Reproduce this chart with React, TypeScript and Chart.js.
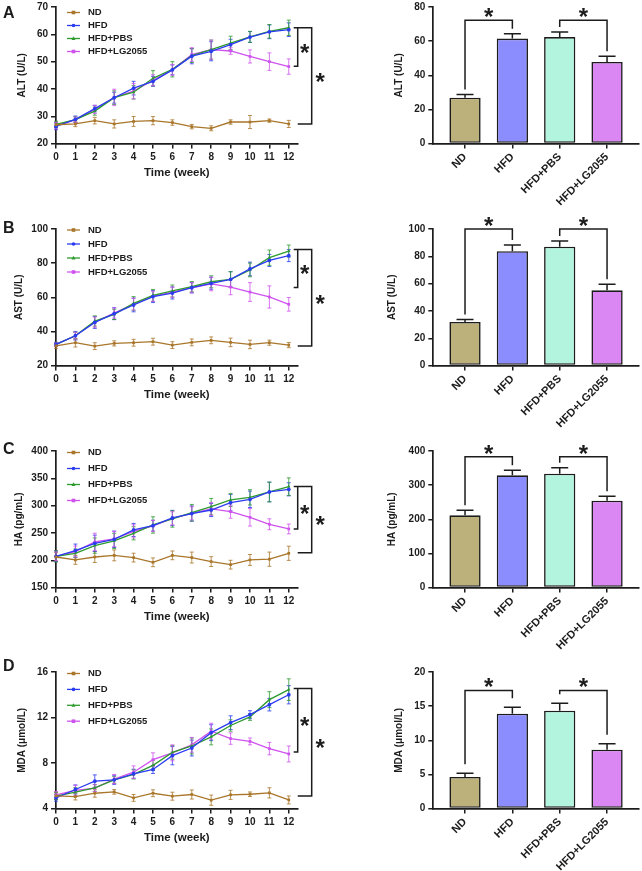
import React, { useEffect, useRef } from "react";
import { Chart, registerables } from "chart.js";

Chart.register(...registerables);

const FONT = "'Liberation Sans', Arial, Helvetica, sans-serif";
Chart.defaults.font.family = FONT;

// ---------- shared categories ----------
const weeks = [0, 1, 2, 3, 4, 5, 6, 7, 8, 9, 10, 11, 12];
const groups = ["ND", "HFD", "HFD+PBS", "HFD+LG2055"];

// ---------- ALT ----------
const altND = [26.9, 27.2, 28.4, 27.2, 28.1, 28.4, 27.7, 26.2, 25.6, 27.9, 27.9, 28.4, 27.2];
const altNDErr = [1.0, 1.0, 1.2, 1.5, 1.8, 1.5, 1.0, 0.8, 0.9, 0.8, 2.4, 0.6, 1.3];
const altHFD = [26.3, 28.9, 32.8, 36.8, 40.3, 42.8, 47.0, 52.0, 53.8, 56.2, 59.0, 60.9, 61.7];
const altHFDErr = [1.2, 1.2, 1.2, 2.0, 2.5, 1.8, 1.8, 2.8, 3.5, 2.0, 2.0, 2.5, 2.5];
const altPBS = [27.0, 28.8, 31.9, 36.8, 38.8, 43.9, 47.2, 52.2, 54.4, 56.8, 59.1, 61.1, 62.4];
const altPBSErr = [1.2, 1.0, 1.5, 2.5, 2.5, 2.8, 2.8, 2.5, 3.5, 2.5, 2.0, 2.5, 2.8];
const altLG = [26.6, 28.7, 32.5, 36.9, 39.2, 43.2, 47.0, 52.6, 54.4, 53.9, 51.9, 50.0, 48.2];
const altLGErr = [1.2, 1.0, 1.5, 3.0, 2.8, 2.0, 2.0, 2.5, 3.5, 1.2, 2.4, 3.2, 2.8];
const altTicks = [20, 30, 40, 50, 60, 70];
const altBracket = [62.4, 48.3, 27.2];
const altBar = [26.9, 61.5, 62.4, 47.8];
const altBarErr = [1.8, 2.9, 3.0, 3.3];
const altBarTicks = [0, 20, 40, 60, 80];
const altBarBracket = 72.2;

// ---------- AST ----------
const astND = [31.6, 33.4, 31.4, 33.0, 33.4, 34.0, 32.0, 33.6, 34.8, 33.6, 32.4, 33.4, 32.0];
const astNDErr = [1.5, 2.5, 2.0, 1.5, 2.0, 2.0, 2.0, 2.0, 2.0, 2.5, 2.5, 1.5, 1.5];
const astHFD = [32.4, 37.5, 45.3, 50.4, 55.5, 60.4, 62.5, 65.6, 68.2, 70.5, 76.6, 81.6, 84.4];
const astHFDErr = [1.2, 2.5, 3.5, 3.5, 4.0, 3.5, 3.5, 3.0, 3.5, 4.5, 4.0, 3.5, 3.5];
const astPBS = [32.4, 37.5, 46.1, 50.0, 56.4, 61.1, 63.7, 66.2, 69.1, 70.5, 76.0, 83.2, 87.1];
const astPBSErr = [1.2, 2.0, 3.0, 3.0, 4.0, 3.5, 3.5, 3.0, 3.5, 4.5, 4.0, 4.5, 3.5];
const astLG = [32.4, 37.5, 45.5, 50.8, 56.0, 60.6, 63.0, 65.6, 67.8, 66.0, 63.1, 60.2, 55.9];
const astLGErr = [1.0, 2.0, 3.0, 3.0, 3.5, 3.0, 3.0, 3.0, 4.0, 4.5, 5.5, 6.5, 4.0];
const astTicks = [20, 40, 60, 80, 100];
const astBracket = [88.0, 65.7, 31.5];
const astBar = [31.9, 83.8, 87.0, 55.1];
const astBarErr = [1.9, 4.4, 4.2, 4.5];
const astBarTicks = [0, 20, 40, 60, 80, 100];
const astBarBracket = 100;

// ---------- HA ----------
const haND = [206, 200.6, 206, 209, 204.9, 196.3, 209, 205, 197.6, 192, 200.6, 202, 212.8];
const haNDErr = [8, 8, 10, 10, 8, 8, 8, 10, 9, 8, 10, 13, 13];
const haHFD = [207.3, 217.7, 231, 238.4, 255.5, 263.4, 277.4, 285.4, 292, 305.5, 311.6, 325, 329.9];
const haHFDErr = [10, 12, 15, 15, 12, 10, 14, 14, 12, 15, 15, 18, 12];
const haPBS = [207.3, 212.8, 226.8, 235.4, 249.4, 264.6, 275.6, 287.2, 298.2, 310.4, 315.2, 325, 334.8];
const haPBSErr = [10, 8, 14, 14, 12, 15, 15, 15, 15, 12, 14, 18, 16];
const haLG = [207.3, 216, 233.5, 239, 253, 262.8, 276.8, 286, 294, 289, 278.7, 265.9, 257.3];
const haLGErr = [8, 10, 16, 14, 12, 10, 12, 12, 12, 12, 16, 10, 9];
const haTicks = [150, 200, 250, 300, 350, 400];
const haBracket = [335, 257.3, 214];
const haBar = [211.7, 328.8, 333.7, 254.6];
const haBarErr = [14.6, 14.6, 17.5, 12.7];
const haBarTicks = [0, 100, 200, 300, 400];
const haBarBracket = 383;

// ---------- MDA ----------
const mdaND = [5.12, 5.06, 5.35, 5.47, 4.94, 5.35, 5.09, 5.24, 4.74, 5.21, 5.26, 5.38, 4.76];
const mdaNDErr = [0.3, 0.3, 0.35, 0.2, 0.3, 0.3, 0.35, 0.4, 0.45, 0.4, 0.2, 0.45, 0.35];
const mdaHFD = [4.95, 5.68, 6.41, 6.53, 7.06, 7.44, 8.65, 9.32, 10.67, 11.55, 12.25, 13.13, 14.0];
const mdaHFDErr = [0.3, 0.4, 0.55, 0.4, 0.4, 0.35, 0.8, 0.7, 0.7, 0.6, 0.35, 0.55, 0.8];
const mdaPBS = [5.09, 5.44, 5.82, 6.53, 7.0, 7.8, 8.94, 9.5, 10.3, 11.3, 12.05, 13.57, 14.45];
const mdaPBSErr = [0.3, 0.4, 0.3, 0.3, 0.4, 0.45, 0.6, 0.7, 0.7, 0.5, 0.3, 0.7, 0.95];
const mdaLG = [5.2, 5.6, 5.8, 6.6, 7.2, 8.3, 8.9, 9.6, 10.8, 10.15, 9.9, 9.27, 8.8];
const mdaLGErr = [0.3, 0.45, 0.3, 0.4, 0.55, 0.6, 0.7, 0.65, 0.7, 0.5, 0.3, 0.55, 0.7];
const mdaTicks = [4, 8, 12, 16];
const mdaBracket = [14.54, 8.98, 5.1];
const mdaBar = [4.63, 13.9, 14.34, 8.63];
const mdaBarErr = [0.54, 0.93, 1.07, 0.88];
const mdaBarTicks = [0, 5, 10, 15, 20];
const mdaBarBracket = 17.3;

// ---------- styles ----------
const lineColors = ["#A9762A", "#2B3CF0", "#2E9B2E", "#CF52EE"];
const errColors = [
  "rgba(169,118,42,0.8)",
  "rgba(43,60,240,0.8)",
  "rgba(46,155,46,0.8)",
  "rgba(207,82,238,0.8)",
];
const pointStyles = ["rect", "circle", "triangle", "rect"];
const barColors = ["#BDB17B", "#8B8DFF", "#B3F4DE", "#DB87F3"];
const INK = "#1c1c1c";

const AREA_H = 136.6;
const PAD_TOP = 22;
const CANVAS_H = 221;
const areaTops = [7, 229, 451, 672];

const panels = [
  {
    letter: "A", letterTop: 4.6, title: "ALT (U/L)",
    ticks: altTicks, series: [altND, altHFD, altPBS, altLG], errs: [altNDErr, altHFDErr, altPBSErr, altLGErr],
    bracket: altBracket, bar: altBar, barErr: altBarErr, barTicks: altBarTicks, barBracket: altBarBracket,
    legendDy: 5.5, legendStep: 13, lineTitlePad: 22.3, barTitlePad: 69, legGap: 5,
  },
  {
    letter: "B", letterTop: 219.6, title: "AST (U/L)",
    ticks: astTicks, series: [astND, astHFD, astPBS, astLG], errs: [astNDErr, astHFDErr, astPBSErr, astLGErr],
    bracket: astBracket, bar: astBar, barErr: astBarErr, barTicks: astBarTicks, barBracket: astBarBracket,
    legendDy: 1, legendStep: 14, lineTitlePad: 19, barTitlePad: 62.3, legGap: 5,
  },
  {
    letter: "C", letterTop: 441.2, title: "HA (pg/mL)",
    ticks: haTicks, series: [haND, haHFD, haPBS, haLG], errs: [haNDErr, haHFDErr, haPBSErr, haLGErr],
    bracket: haBracket, bar: haBar, barErr: haBarErr, barTicks: haBarTicks, barBracket: haBarBracket,
    legendDy: 1.5, legendStep: 16, lineTitlePad: 19, barTitlePad: 62.3, legGap: 5,
  },
  {
    letter: "D", letterTop: 658, title: "MDA (μmol/L)",
    ticks: mdaTicks, series: [mdaND, mdaHFD, mdaPBS, mdaLG], errs: [mdaNDErr, mdaHFDErr, mdaPBSErr, mdaLGErr],
    bracket: mdaBracket, bar: mdaBar, barErr: mdaBarErr, barTicks: mdaBarTicks, barBracket: mdaBarBracket,
    legendDy: 1.5, legendStep: 15.9, lineTitlePad: 22.3, barTitlePad: 69, legGap: 9,
  },
];

function star(ctx: CanvasRenderingContext2D, x: number, y: number) {
  const size = 24;
  ctx.save();
  ctx.fillStyle = INK;
  ctx.font = `bold ${size}px ${FONT}`;
  ctx.textAlign = "center";
  ctx.textBaseline = "alphabetic";
  ctx.fillText("*", x, y + 0.575 * size);
  ctx.restore();
}

function marker(ctx: CanvasRenderingContext2D, style: string, x: number, y: number, r: number, color: string) {
  ctx.save();
  ctx.fillStyle = color;
  ctx.beginPath();
  if (style === "circle") {
    ctx.arc(x, y, r, 0, Math.PI * 2);
  } else if (style === "triangle") {
    ctx.moveTo(x, y - r * 1.2);
    ctx.lineTo(x + r * 1.1, y + r * 0.8);
    ctx.lineTo(x - r * 1.1, y + r * 0.8);
    ctx.closePath();
  } else {
    ctx.rect(x - r, y - r, r * 2, r * 2);
  }
  ctx.fill();
  ctx.restore();
}

const tickFont = { family: FONT, size: 10, weight: "bold" as const };

function axisCommon() {
  return {
    bounds: "data" as const,
    grid: {
      display: true,
      drawOnChartArea: false,
      drawTicks: true,
      tickLength: 5,
      color: INK,
      lineWidth: 1.5,
      offset: false,
    },
    border: { display: true, color: INK, width: 1.7 },
  };
}

function LinePanel({ p, top }: any) {
  const ref = useRef<HTMLCanvasElement>(null);
  useEffect(() => {
    const canvas = ref.current!;
    const ymin = p.ticks[0];
    const ymax = p.ticks[p.ticks.length - 1];

    const errPlugin = {
      id: "lineErrBars",
      beforeDatasetsDraw(chart: any) {
        const { ctx, scales } = chart;
        const xs = scales.x;
        const ys = scales.y;
        ctx.save();
        ctx.lineWidth = 1;
        p.series.forEach((vals: number[], i: number) => {
          ctx.strokeStyle = errColors[i];
          weeks.forEach((w, j) => {
            const px = xs.getPixelForValue(w);
            const hi = ys.getPixelForValue(vals[j] + p.errs[i][j]);
            const lo = ys.getPixelForValue(vals[j] - p.errs[i][j]);
            ctx.beginPath();
            ctx.moveTo(px, hi);
            ctx.lineTo(px, lo);
            ctx.moveTo(px - 2, hi);
            ctx.lineTo(px + 2, hi);
            ctx.moveTo(px - 2, lo);
            ctx.lineTo(px + 2, lo);
            ctx.stroke();
          });
        });
        ctx.restore();
      },
    };

    const overlay = {
      id: "lineOverlay",
      afterDraw(chart: any) {
        const { ctx, chartArea, scales } = chart;
        const ys = scales.y;
        ctx.save();
        groups.forEach((g, i) => {
          const cy = chartArea.top + p.legendDy + i * p.legendStep;
          ctx.strokeStyle = lineColors[i];
          ctx.lineWidth = 1.3;
          ctx.beginPath();
          ctx.moveTo(67, cy);
          ctx.lineTo(80, cy);
          ctx.stroke();
          marker(ctx, pointStyles[i], 73.5, cy, 1.8, lineColors[i]);
          ctx.fillStyle = INK;
          ctx.font = `bold 9.5px ${FONT}`;
          ctx.textBaseline = "middle";
          ctx.textAlign = "left";
          ctx.fillText(g, 88, cy);
        });
        const xi = chartArea.right;
        const xo = xi + 14;
        const yT = ys.getPixelForValue(p.bracket[0]);
        const yI = ys.getPixelForValue(p.bracket[1]);
        const yO = ys.getPixelForValue(p.bracket[2]);
        ctx.strokeStyle = INK;
        ctx.lineWidth = 1.5;
        ctx.beginPath();
        ctx.moveTo(xi - 4, yT);
        ctx.lineTo(xo, yT);
        ctx.lineTo(xo, yO);
        ctx.lineTo(xi, yO);
        ctx.moveTo(xi, yT);
        ctx.lineTo(xi, yI);
        ctx.lineTo(xi - 4, yI);
        ctx.stroke();
        ctx.restore();
        star(ctx, (xi + xo) / 2, (yT + yI) / 2);
        star(ctx, xo + 8.5, (yT + yO) / 2);
      },
    };

    const chart = new Chart(canvas, {
      type: "line",
      data: {
        datasets: groups.map((g, i) => ({
          label: g,
          data: weeks.map((w, j) => ({ x: w, y: p.series[i][j] })),
          borderColor: lineColors[i],
          backgroundColor: lineColors[i],
          borderWidth: 1.3,
          pointRadius: 1.9,
          pointStyle: pointStyles[i] as any,
          pointBorderWidth: 0,
          tension: 0,
          clip: false as any,
        })),
      },
      options: {
        animation: false,
        responsive: false,
        events: [],
        layout: { padding: { top: PAD_TOP, right: 32.3, left: 0, bottom: 0 } },
        plugins: { legend: { display: false }, tooltip: { enabled: false } },
        scales: {
          x: {
            type: "linear",
            min: 0,
            max: 12.46,
            ...axisCommon(),
            afterBuildTicks: (s: any) => {
              s.ticks = weeks.map((v) => ({ value: v }));
            },
            afterFit: (s: any) => {
              s.height = CANVAS_H - PAD_TOP - AREA_H;
            },
            ticks: { font: tickFont, color: INK, padding: 3, maxRotation: 0, autoSkip: false },
            title: {
              display: true,
              text: "Time (week)",
              color: INK,
              font: { family: FONT, size: 11.5, weight: "bold" },
              padding: { top: 0, bottom: 26.1 },
            },
          },
          y: {
            type: "linear",
            min: ymin,
            max: ymax,
            ...axisCommon(),
            afterBuildTicks: (s: any) => {
              s.ticks = p.ticks.map((v: number) => ({ value: v }));
            },
            afterFit: (s: any) => {
              s.width = 56;
            },
            ticks: { font: tickFont, color: INK, padding: 3 },
            title: {
              display: true,
              text: p.title,
              color: INK,
              font: { family: FONT, size: 10, weight: "bold" },
              padding: { top: p.lineTitlePad - 6, bottom: 0 },
            },
          },
        },
      } as any,
      plugins: [errPlugin, overlay],
    });
    return () => chart.destroy();
  }, []);
  return (
    <canvas
      ref={ref}
      width={330}
      height={CANVAS_H}
      style={{ position: "absolute", left: 0, top, width: 330, height: CANVAS_H, display: "block" }}
    />
  );
}

function BarPanel({ p, top }: any) {
  const ref = useRef<HTMLCanvasElement>(null);
  useEffect(() => {
    const canvas = ref.current!;
    const ymax = p.barTicks[p.barTicks.length - 1];

    const overlay = {
      id: "barOverlay",
      afterDatasetsDraw(chart: any) {
        const { ctx, scales } = chart;
        const xs = scales.x;
        const ys = scales.y;
        ctx.save();
        ctx.strokeStyle = INK;
        ctx.lineWidth = 1.5;
        p.bar.forEach((v: number, i: number) => {
          const px = xs.getPixelForValue(i);
          const y0 = ys.getPixelForValue(v);
          const y1 = ys.getPixelForValue(v + p.barErr[i]);
          ctx.beginPath();
          ctx.moveTo(px, y0);
          ctx.lineTo(px, y1);
          ctx.moveTo(px - 8.5, y1);
          ctx.lineTo(px + 8.5, y1);
          ctx.stroke();
        });
        const yb = ys.getPixelForValue(p.barBracket);
        [[0, 1], [2, 3]].forEach(([a, b]) => {
          const xa = xs.getPixelForValue(a);
          const xb = xs.getPixelForValue(b);
          const ya = ys.getPixelForValue(p.bar[a] + p.barErr[a]) - p.legGap;
          const yb2 = ys.getPixelForValue(p.bar[b] + p.barErr[b]) - p.legGap;
          ctx.beginPath();
          ctx.moveTo(xa, ya);
          ctx.lineTo(xa, yb);
          ctx.lineTo(xb, yb);
          ctx.lineTo(xb, yb2);
          ctx.stroke();
          star(ctx, (xa + xb) / 2, yb - 9);
        });
        ctx.restore();
      },
    };

    const chart = new Chart(canvas, {
      type: "bar",
      data: {
        datasets: [
          {
            data: groups.map((g, i) => ({ x: i, y: p.bar[i] })),
            backgroundColor: barColors,
            borderColor: INK,
            borderWidth: 1.6,
            borderSkipped: false,
            barPercentage: 0.66,
            categoryPercentage: 1,
          },
        ],
      },
      options: {
        animation: false,
        responsive: false,
        events: [],
        layout: { padding: { top: PAD_TOP, right: 3.7, left: 0, bottom: 0 } },
        plugins: { legend: { display: false }, tooltip: { enabled: false } },
        scales: {
          x: {
            type: "linear",
            min: -0.67,
            max: 3.66,
            offset: false,
            ...axisCommon(),
            afterBuildTicks: (s: any) => {
              s.ticks = groups.map((_, i) => ({ value: i }));
            },
            afterFit: (s: any) => {
              s.height = CANVAS_H - PAD_TOP - AREA_H;
            },
            ticks: {
              font: { family: FONT, size: 11, weight: "bold" },
              color: INK,
              padding: 2,
              minRotation: 45,
              maxRotation: 45,
              autoSkip: false,
              callback: (v: any) => groups[v] ?? "",
            },
          },
          y: {
            type: "linear",
            min: 0,
            max: ymax,
            ...axisCommon(),
            afterBuildTicks: (s: any) => {
              s.ticks = p.barTicks.map((v: number) => ({ value: v }));
            },
            afterFit: (s: any) => {
              s.width = 103.3;
            },
            ticks: { font: tickFont, color: INK, padding: 3 },
            title: {
              display: true,
              text: p.title,
              color: INK,
              font: { family: FONT, size: 10, weight: "bold" },
              padding: { top: p.barTitlePad - 6, bottom: 0 },
            },
          },
        },
      } as any,
      plugins: [overlay],
    });
    return () => chart.destroy();
  }, []);
  return (
    <canvas
      ref={ref}
      width={312}
      height={CANVAS_H}
      style={{ position: "absolute", left: 330, top, width: 312, height: CANVAS_H, display: "block" }}
    />
  );
}

export default function App() {
  return (
    <div
      style={{
        position: "fixed",
        left: 0,
        top: 0,
        width: 642,
        height: 871,
        background: "#fff",
        overflow: "hidden",
      }}
    >
      {panels.map((p, i) => (
        <React.Fragment key={p.letter}>
          <LinePanel p={p} top={areaTops[i] - PAD_TOP} />
          <BarPanel p={p} top={areaTops[i] - PAD_TOP} />
          <div
            style={{
              position: "absolute",
              left: 3,
              top: p.letterTop,
              font: `bold 16px/16px ${FONT}`,
              color: INK,
            }}
          >
            {p.letter}
          </div>
        </React.Fragment>
      ))}
    </div>
  );
}
